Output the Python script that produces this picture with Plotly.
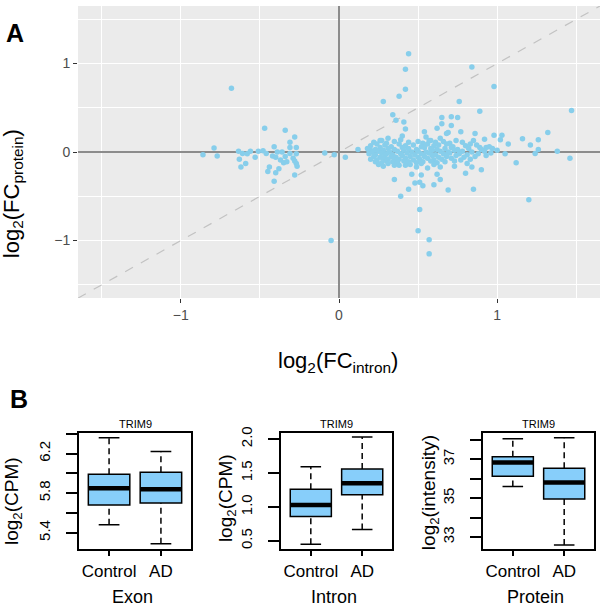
import plotly.graph_objects as go

# ---------------- Panel A data: log2 fold changes ----------------
fc_intron = [
    # scattered / outlying genes
    0.44, 0.42, 0.84, 0.42, 0.38, 0.28, 0.98, 0.76, 0.89, 1.47,
    0.34, 0.65, 0.71, 0.75, 0.36, 0.41, 0.42, 0.40, 0.54, 0.62,
    0.65, 0.71, 0.69, 0.77, 0.86, 0.98, 1.03, 0.92, 1.02, 1.07,
    1.16, 1.26, 1.32, 1.21, 1.26, 1.38, 1.46, 1.24, 1.12, 0.90,
    0.80, 0.85, 0.69, 0.60, 0.53, 0.48, 0.44, 0.35, 0.39, 0.46,
    0.52, 0.62, 0.64, 0.51, 1.20, 0.28, 0.35, 0.42, 0.56, 0.73,
    0.04, -0.03, -0.09, 0.12, 0.20, 0.51, 0.50, 0.57, -0.05, 0.57,
    -0.68, 0.55, 0.64, 0.68, 0.31, 0.26, 0.57, 0.74, 0.83, 0.89,
    0.93, 0.49, 0.64, 0.81, 0.84, 0.19,
    # left cluster
    -0.47, -0.34, -0.28, -0.31, -0.41, -0.31, -0.27, -0.79, -0.86, -0.77,
    -0.635, -0.61, -0.58, -0.56, -0.51, -0.48, -0.46, -0.53, -0.63, -0.59,
    -0.62, -0.42, -0.39, -0.36, -0.40, -0.37, -0.34, -0.31, -0.29, -0.27,
    -0.28, -0.27, -0.265, -0.44, -0.38, -0.45, -0.40, -0.28, -0.41, -0.35,
    -0.33,
    # dense central band
    0.22, 0.27, 0.30, 0.35, 0.39, 0.44, 0.50, 0.53, 0.58, 0.61, 0.66, 0.70, 0.78, 0.85,
    0.20, 0.24, 0.29, 0.33, 0.38, 0.42, 0.47, 0.52, 0.56, 0.60, 0.63, 0.68, 0.72, 0.80, 0.87, 0.95,
    0.18, 0.23, 0.26, 0.31, 0.35, 0.40, 0.44, 0.49, 0.54, 0.58, 0.62, 0.67, 0.71, 0.75, 0.82, 0.90, 0.97,
    0.21, 0.25, 0.28, 0.32, 0.37, 0.41, 0.46, 0.50, 0.55, 0.59, 0.64, 0.69, 0.73, 0.78, 0.84, 0.92, 1.00,
    0.19, 0.23, 0.27, 0.30, 0.34, 0.39, 0.43, 0.48, 0.52, 0.57, 0.61, 0.66, 0.70, 0.76, 0.81, 0.88, 0.96, 1.05,
    0.22, 0.26, 0.29, 0.33, 0.36, 0.40, 0.45, 0.50, 0.54, 0.59, 0.63, 0.68, 0.74, 0.79, 0.86, 0.93,
    0.20, 0.24, 0.28, 0.31, 0.35, 0.38, 0.42, 0.47, 0.51, 0.56, 0.60, 0.65, 0.71, 0.77, 0.83,
    0.23, 0.27, 0.30, 0.34, 0.37, 0.41, 0.44, 0.49, 0.53, 0.58, 0.62, 0.67, 0.73,
    0.25, 0.31, 0.38, 0.45, 0.52, 0.60,
]
fc_protein = [
    1.11, 0.935, 0.96, 0.71, 0.63, 0.57, 0.74, 0.57, 0.46, 0.47,
    0.42, 0.39, 0.40, 0.39, 0.36, 0.34, 0.26, 0.18, 0.23, 0.27,
    0.32, 0.30, 0.22, 0.23, 0.21, 0.19, 0.19, 0.145, 0.14, 0.09,
    0.15, 0.14, 0.22, 0.08, 0.03, 0.01, -0.07, -0.015, -0.12, -0.20,
    -0.24, -0.42, -0.43, -0.37, -0.38, -0.35, -0.42, -0.31, -0.50, -0.25,
    -0.26, -0.25, -0.31, -0.34, -0.54, -0.16, -0.15, -0.15, -0.18, -0.16,
    -0.06, -0.03, -0.01, 0.03, 0.02, -0.65, -0.89, -0.99, -1.00, -1.15,
    0.72, 0.17, 0.155, 0.21, 0.155, 0.13, 0.13, 0.13, 0.09, 0.05,
    0.05, -0.17, -0.17, -0.13, -0.17, 0.015,
    # left cluster
    0.27, 0.245, 0.17, 0.11, 0.06, 0.05, 0.05, 0.045, -0.03, -0.045,
    0.01, -0.015, -0.02, 0.01, 0.01, 0.015, -0.015, -0.06, -0.08, -0.13,
    -0.17, -0.045, 0.0, 0.0, -0.06, -0.09, -0.05, -0.015, -0.07, -0.02,
    -0.10, -0.13, -0.16, -0.17, -0.19, -0.22, -0.235, -0.26, -0.33, -0.12,
    -0.11,
    # dense central band
    0.11, 0.13, 0.10, 0.12, 0.14, 0.11, 0.12, 0.10, 0.13, 0.11, 0.12, 0.10, 0.11, 0.13,
    0.07, 0.09, 0.08, 0.06, 0.09, 0.07, 0.08, 0.06, 0.09, 0.07, 0.08, 0.09, 0.06, 0.07, 0.08, 0.06,
    0.04, 0.03, 0.05, 0.04, 0.03, 0.05, 0.04, 0.03, 0.05, 0.04, 0.03, 0.04, 0.05, 0.03, 0.04, 0.03, 0.04,
    0.00, 0.01, 0.02, 0.00, 0.01, 0.02, 0.00, 0.01, 0.00, 0.02, 0.01, 0.00, 0.02, 0.01, 0.00, 0.01, 0.02,
    -0.02, -0.03, -0.01, -0.02, -0.03, -0.02, -0.01, -0.03, -0.02, -0.01, -0.03, -0.02, -0.01, -0.02, -0.03, -0.02, -0.01, -0.02,
    -0.05, -0.06, -0.04, -0.05, -0.06, -0.04, -0.05, -0.06, -0.05, -0.04, -0.06, -0.05, -0.04, -0.06, -0.05, -0.04,
    -0.08, -0.09, -0.07, -0.08, -0.09, -0.08, -0.07, -0.09, -0.08, -0.07, -0.09, -0.08, -0.07, -0.09, -0.08,
    -0.11, -0.12, -0.10, -0.11, -0.12, -0.10, -0.11, -0.12, -0.11, -0.10, -0.12, -0.11, -0.10,
    -0.14, -0.13, -0.15, -0.14, -0.13, -0.14,
]
assert len(fc_intron) == len(fc_protein)

a_ticks = [-1, 0, 1]
a_ticktext = ["\u22121", "0", "1"]
a_minor = [-1.5, -0.5, 0.5, 1.5]
a_lim = 1.65

# ---------------- Panel B data: TRIM9 box statistics ----------------
groups = ["Control", "AD"]
box_panels = ["Exon", "Intron", "Protein"]
exon_lower = [5.48, 5.29]
exon_q1 = [5.68, 5.70]
exon_median = [5.85, 5.84]
exon_q3 = [5.99, 6.01]
exon_upper = [6.36, 6.22]

intron_lower = [0.45, 0.67]
intron_q1 = [0.86, 1.18]
intron_median = [1.03, 1.35]
intron_q3 = [1.26, 1.56]
intron_upper = [1.59, 2.03]

protein_lower = [35.6, 32.6]
protein_q1 = [36.13, 34.96]
protein_median = [36.83, 35.81]
protein_q3 = [37.13, 36.54]
protein_upper = [38.05, 38.1]

exon_labeled_ticks = [5.4, 5.8, 6.2]
exon_minor_ticks = [5.6, 6.0, 6.4]
intron_labeled_ticks = [0.5, 1.0, 1.5, 2.0]
intron_minor_ticks = []
protein_labeled_ticks = [33, 35, 37]
protein_minor_ticks = [34, 36, 38]
box_tickformats = [".1f", ".1f", "d"]

POINT_COLOR = "#87CEEB"
BOX_COLOR = "#87CEFA"
W, H = 600, 610

fig = go.Figure()

# Panel A
fig.add_trace(go.Scatter(
    x=[-a_lim, a_lim], y=[-a_lim, a_lim], mode="lines",
    line=dict(color="#c2c2c2", width=1.2, dash="dash"),
    xaxis="x", yaxis="y", hoverinfo="skip", showlegend=False))
fig.add_trace(go.Scatter(
    x=fc_intron, y=fc_protein, mode="markers",
    marker=dict(color=POINT_COLOR, size=5.5, line=dict(width=0)),
    xaxis="x", yaxis="y", showlegend=False))

# Panel B
box_sets = [
    (exon_lower, exon_q1, exon_median, exon_q3, exon_upper),
    (intron_lower, intron_q1, intron_median, intron_q3, intron_upper),
    (protein_lower, protein_q1, protein_median, protein_q3, protein_upper),
]
pos = [1, 2]
bw = 0.8
cap = 0.2
for i, (lo, q1, med, q3, up) in enumerate(box_sets):
    xa, ya = f"x{i+2}", f"y{i+2}"
    wx, wy = [], []
    for p, a, b, c, d in zip(pos, lo, q1, q3, up):
        wx += [p, p, None, p, p, None]
        wy += [a, b, None, c, d, None]
    fig.add_trace(go.Scatter(x=wx, y=wy, mode="lines",
                             line=dict(color="black", width=1.5, dash="6px,4px"),
                             xaxis=xa, yaxis=ya, showlegend=False, hoverinfo="skip"))
    sx, sy = [], []
    for p, a, d in zip(pos, lo, up):
        sx += [p - cap, p + cap, None, p - cap, p + cap, None]
        sy += [a, a, None, d, d, None]
    fig.add_trace(go.Scatter(x=sx, y=sy, mode="lines",
                             line=dict(color="black", width=1.5),
                             xaxis=xa, yaxis=ya, showlegend=False, hoverinfo="skip"))
    fig.add_trace(go.Box(x=pos, q1=q1, median=med, q3=q3, lowerfence=q1, upperfence=q3,
                         width=bw, whiskerwidth=0, fillcolor=BOX_COLOR,
                         line=dict(color="black", width=1.5),
                         xaxis=xa, yaxis=ya, showlegend=False, boxpoints=False))
    mx, my = [], []
    for p, m in zip(pos, med):
        mx += [p - bw / 2, p + bw / 2, None]
        my += [m, m, None]
    fig.add_trace(go.Scatter(x=mx, y=my, mode="lines",
                             line=dict(color="black", width=4.5),
                             xaxis=xa, yaxis=ya, showlegend=False, hoverinfo="skip"))

def px_x(p):
    return p / W

def px_y(p):
    return 1 - p / H

FONT = "Liberation Sans, Arial, sans-serif"
tickfont_a = dict(family=FONT, size=14, color="#4d4d4d")
axis_a = dict(range=[-a_lim, a_lim],
              tickvals=a_ticks, ticktext=a_ticktext, ticks="outside", ticklen=4,
              tickcolor="#333333", tickfont=tickfont_a,
              showgrid=True, gridcolor="white", gridwidth=1.3,
              minor=dict(tickvals=a_minor, showgrid=True, gridcolor="white", gridwidth=0.6, ticks=""),
              zeroline=True, zerolinecolor="#8c8c8c", zerolinewidth=1.6, showline=False)
layout = dict(
    width=W, height=H, margin=dict(l=0, r=0, t=0, b=0),
    paper_bgcolor="white", plot_bgcolor="rgba(0,0,0,0)",
    font=dict(family=FONT, color="black"),
    xaxis=dict(domain=[px_x(78), 1.0], anchor="y", **axis_a),
    yaxis=dict(domain=[px_y(295), 1.0], anchor="x", **axis_a),
)

box_x_domains = [(79, 191), (281, 392), (483, 594)]
box_y_ranges = [(5.24, 6.41), (0.387, 2.092), (32.41, 38.36)]
box_ticks = [(exon_labeled_ticks, exon_minor_ticks),
             (intron_labeled_ticks, intron_minor_ticks),
             (protein_labeled_ticks, protein_minor_ticks)]
for i in range(3):
    x0, x1 = box_x_domains[i]
    layout[f"xaxis{i+2}"] = dict(
        domain=[px_x(x0), px_x(x1)], range=[0.42, 2.58], anchor=f"y{i+2}",
        tickvals=pos, ticktext=groups, ticks="outside", ticklen=6, tickwidth=1.5,
        tickcolor="black", tickfont=dict(size=17, color="black"),
        showline=True, mirror=True, linecolor="black", linewidth=1.5,
        showgrid=False, zeroline=False)
    yax = dict(
        domain=[px_y(548), px_y(431)], range=list(box_y_ranges[i]), anchor=f"x{i+2}",
        tickvals=box_ticks[i][0], tickformat=box_tickformats[i], ticks="outside", ticklen=11,
        tickwidth=1.5, tickcolor="black", tickangle=-90, tickfont=dict(size=15, color="black"),
        ticklabelstandoff=10,
        showline=True, mirror=True, linecolor="black", linewidth=1.5,
        showgrid=False, zeroline=False)
    if box_ticks[i][1]:
        yax["minor"] = dict(tickvals=box_ticks[i][1], ticks="outside", ticklen=11,
                            tickwidth=1.5, tickcolor="black", showgrid=False)
    layout[f"yaxis{i+2}"] = yax

fig.update_layout(**layout)

fig.add_shape(type="rect", xref="x domain", yref="y domain", x0=0, x1=1, y0=0, y1=1,
              fillcolor="#EBEBEB", line=dict(width=0), layer="below")

ann = []
ann.append(dict(text="<b>A</b>", x=px_x(15), y=px_y(27), font=dict(size=25)))
ann.append(dict(text="<b>B</b>", x=px_x(19), y=px_y(397), font=dict(size=25)))
ann.append(dict(text="log<sub>2</sub>(FC<sub>protein</sub>)", x=px_x(13), y=px_y(190),
                textangle=-90, font=dict(size=22)))
ann.append(dict(text="log<sub>2</sub>(FC<sub>intron</sub>)", x=px_x(338), y=px_y(360),
                font=dict(size=22)))
ylabels = ["log<sub>2</sub>(CPM)", "log<sub>2</sub>(CPM)", "log<sub>2</sub>(intensity)"]
ylabel_x = [13, 227, 430]
ylabel_y = [500, 497, 492]
for i in range(3):
    x0, x1 = box_x_domains[i]
    cx = (x0 + x1) / 2
    ann.append(dict(text="TRIM9", x=px_x(cx), y=px_y(422), font=dict(size=11)))
    ann.append(dict(text=box_panels[i], x=px_x(cx - 3), y=px_y(597), font=dict(size=18)))
    ann.append(dict(text=ylabels[i], x=px_x(ylabel_x[i]), y=px_y(ylabel_y[i]),
                    textangle=-90, font=dict(size=19)))
for a in ann:
    a.update(xref="paper", yref="paper", showarrow=False, xanchor="center", yanchor="middle")
    a["font"].setdefault("color", "black")
    a["font"].setdefault("family", FONT)
    fig.add_annotation(**a)

fig.write_html("out.html", config={"displayModeBar": False},
               post_script="document.body.style.margin='0px';document.body.style.overflow='hidden';")
